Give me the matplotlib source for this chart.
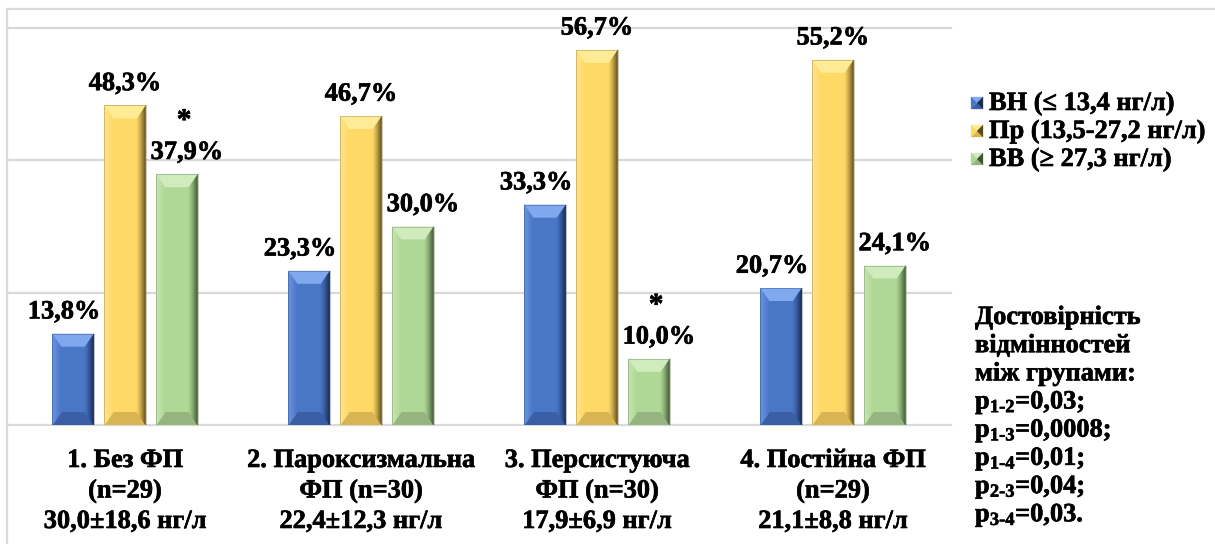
import numpy as np
import matplotlib as mpl
mpl.use("Agg")
import matplotlib.pyplot as plt
import matplotlib.patheffects as pe
from matplotlib.patches import Polygon
from matplotlib.lines import Line2D
from matplotlib.colors import to_rgb

mpl.rcParams['font.family'] = ['Liberation Serif', 'DejaVu Serif']
mpl.rcParams['font.weight'] = 'bold'
mpl.rcParams['mathtext.fontset'] = 'custom'
mpl.rcParams['mathtext.rm'] = 'Liberation Serif:bold'
mpl.rcParams['mathtext.it'] = 'Liberation Serif:bold'
mpl.rcParams['mathtext.bf'] = 'Liberation Serif:bold'

# ---- data ----
group_labels = [
    ["1. Без ФП", "(n=29)", "30,0±18,6 нг/л"],
    ["2. Пароксизмальна", "ФП (n=30)", "22,4±12,3 нг/л"],
    ["3. Персистуюча", "ФП (n=30)", "17,9±6,9 нг/л"],
    ["4. Постійна ФП", "(n=29)", "21,1±8,8 нг/л"],
]
series_names = ["ВН (≤ 13,4 нг/л)", "Пр (13,5-27,2 нг/л)", "ВВ (≥ 27,3 нг/л)"]
low_share = [13.8, 23.3, 33.3, 20.7]
mid_share = [48.3, 46.7, 56.7, 55.2]
high_share = [37.9, 30.0, 10.0, 24.1]
starred = [(2, 0), (2, 2)]  # (series, group) pairs marked with an asterisk
note_lines = [
    "Достовірність",
    "відмінностей",
    "між групами:",
    r"$\mathrm{p}_{1\text{-}2}$=0,03;",
    r"$\mathrm{p}_{1\text{-}3}$=0,0008;",
    r"$\mathrm{p}_{1\text{-}4}$=0,01;",
    r"$\mathrm{p}_{2\text{-}3}$=0,04;",
    r"$\mathrm{p}_{3\text{-}4}$=0,03.",
]

# ---- styling ----
W, H = 1215, 544
palettes = [
    # base, top, bottom, left edge, right edge
    dict(base='#4a76c6', top='#7fa8ee', bottom='#3a5fa6', left='#6f98e2', right='#172a52'),
    dict(base='#ffd966', top='#ffeb96', bottom='#d8b552', left='#ffe692', right='#5e4b1b'),
    dict(base='#afd795', top='#d0ecbd', bottom='#94b580', left='#c9e8b6', right='#3e5532'),
]
label_dx = [-9, 0, 10]   # horizontal nudge of value labels, px
bar_offsets = [-0.22, 0.0, 0.22]
bar_width = 0.175
FS = 19
heavy = [pe.withStroke(linewidth=0.45, foreground='black')]
txt_kw = dict(fontsize=FS, fontweight='bold', color='black', path_effects=heavy)

fig = plt.figure(figsize=(W / 100, H / 100), dpi=100)
fig.patch.set_facecolor('white')
ax_left, ax_right, ax_top, ax_bottom = 7, 951, 28, 425
ax = fig.add_axes([ax_left / W, 1 - ax_bottom / H,
                   (ax_right - ax_left) / W, (ax_bottom - ax_top) / H])
ax.set_xlim(-0.5, 3.5)
ax.set_ylim(0, 60)
ax.set_yticks([0, 20, 40, 60])
ax.grid(axis='y', color='#d9d9d9', lw=1.6)
for gl in ax.get_ygridlines():
    gl.set_clip_on(False)
ax.set_axisbelow(True)
ax.tick_params(left=False, bottom=False, labelleft=False, labelbottom=False)
for s in ax.spines.values():
    s.set_visible(False)

# outer frame (top and left edges)
fig.add_artist(Line2D([7 / W, 1], [1 - 8.5 / H, 1 - 8.5 / H], color='#d9d9d9', lw=1.6,
                      transform=fig.transFigure))
fig.add_artist(Line2D([7 / W, 7 / W], [0, 1 - 8.5 / H], color='#d9d9d9', lw=1.6,
                      transform=fig.transFigure))

dx = 4.0 / (ax_right - ax_left)   # data units per px (x)
dy = 60.0 / (ax_bottom - ax_top)  # data units per px (y)


def mix(c1, c2, t):
    a, b = np.array(to_rgb(c1)), np.array(to_rgb(c2))
    return tuple(a + (b - a) * t)


def bevel(rect, pal, ax):
    x0, y0 = rect.get_x(), rect.get_y()
    w, h = rect.get_width(), rect.get_height()
    x1, y1 = x0 + w, y0 + h
    ix = min(9 * dx, w / 2)
    iy = min(13 * dy, h / 2)
    kw = dict(lw=0, zorder=3)
    ax.add_patch(Polygon([(x0, y0), (x1, y0), (x1 - ix, y0 + iy), (x0 + ix, y0 + iy)],
                         fc=pal['bottom'], **kw))
    n = 9
    # right face: gradient from base to dark edge
    for k in range(n):
        a = k / n
        b = (k + 1) / n
        xa = x1 - ix + ix * a
        xb = x1 - ix + ix * b
        col = mix(pal['base'], pal['right'], ((a + b) / 2) ** 1.3)
        pts = [(xa, y0 + iy * (1 - a)), (xb, y0 + iy * (1 - b)),
               (xb, y1 - iy * (1 - b)), (xa, y1 - iy * (1 - a))]
        ax.add_patch(Polygon(pts, fc=col, ec=col, lw=0.3, zorder=3))
    # left face: light edge fading into base
    for k in range(n):
        a = k / n
        b = (k + 1) / n
        xa = x0 + ix * a
        xb = x0 + ix * b
        col = mix(pal['left'], pal['base'], (a + b) / 2)
        pts = [(xa, y0 + iy * a), (xb, y0 + iy * b),
               (xb, y1 - iy * b), (xa, y1 - iy * a)]
        ax.add_patch(Polygon(pts, fc=col, ec=col, lw=0.3, zorder=3))
    ax.add_patch(Polygon([(x0, y1), (x1, y1), (x1 - ix, y1 - iy), (x0 + ix, y1 - iy)],
                         fc=pal['top'], **kw))
    ax.add_patch(Polygon([(x0, y0), (x0, y1), (x1, y1), (x1, y0)], fill=False,
                         ec=pal['right'], lw=0.4, alpha=0.5, zorder=4))


x = np.arange(len(group_labels))
all_series = [low_share, mid_share, high_share]
for si, vals in enumerate(all_series):
    bars = ax.bar(x + bar_offsets[si], vals, width=bar_width,
                  color=palettes[si]['base'], zorder=2, lw=0)
    for gi, (rect, v) in enumerate(zip(bars, vals)):
        bevel(rect, palettes[si], ax)
        cx = rect.get_x() + rect.get_width() / 2
        ax.annotate(f"{v:.1f}".replace('.', ',') + '%', (cx, v),
                    xytext=(label_dx[si] * 0.72, 11), textcoords='offset points',
                    ha='center', va='baseline', annotation_clip=False, **txt_kw)
        if (si, gi) in starred:
            ax.annotate('*', (cx, v), xytext=(label_dx[si] * 0.72 - 2, 33),
                        textcoords='offset points', ha='center', va='baseline',
                        annotation_clip=False, **dict(txt_kw, fontsize=21))

# category labels, one line at a time
for gi, lines in enumerate(group_labels):
    for li, txt in enumerate(lines):
        yb = 467 + 30.5 * li
        ax.text(gi, 1 - (yb - ax_top) / (ax_bottom - ax_top), txt,
                transform=ax.get_xaxis_transform(), ha='center', va='baseline',
                **txt_kw)


# legend with bevelled squares
def legend_marker(x0, ytop, size, pal):
    x0f, x1f = x0 / W, (x0 + size) / W
    y1f, y0f = 1 - ytop / H, 1 - (ytop + size) / H
    cxf, cyf = (x0f + x1f) / 2, (y0f + y1f) / 2
    tri = [
        ([(x0f, y1f), (x1f, y1f), (cxf, cyf)], pal['top']),
        ([(x0f, y0f), (x1f, y0f), (cxf, cyf)], pal['bottom']),
        ([(x0f, y0f), (x0f, y1f), (cxf, cyf)], pal['base']),
        ([(x1f, y0f), (x1f, y1f), (cxf, cyf)], pal['right']),
    ]
    for pts, c in tri:
        fig.add_artist(Polygon(pts, fc=c, ec=c, lw=0.2, transform=fig.transFigure))


for si, name in enumerate(series_names):
    yc = 103 + 28 * si
    legend_marker(971, yc - 6, 12, palettes[si])
    fig.text(989 / W, 1 - (yc + 7) / H, name, ha='left', va='baseline', **txt_kw)

for li, txt in enumerate(note_lines):
    yb = 324 + 28.2 * li
    fig.text(975 / W, 1 - yb / H, txt, ha='left', va='baseline', **txt_kw)

fig.savefig('out.png', dpi=100, facecolor='white')
